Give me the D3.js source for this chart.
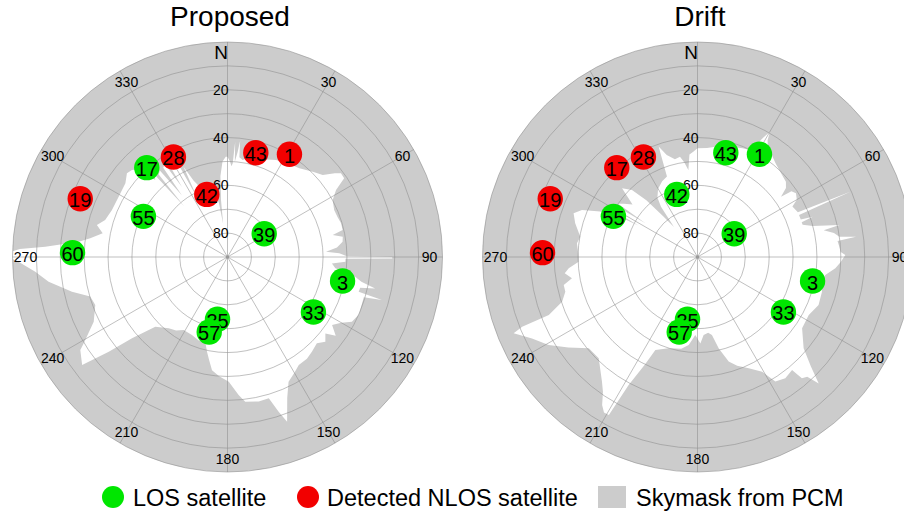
<!DOCTYPE html>
<html>
<head>
<meta charset="utf-8">
<script src="https://cdn.jsdelivr.net/npm/d3@7"></script>
<style>
  body { margin: 0; background: #fff; }
  text { font-family: "Liberation Sans", Arial, Helvetica, sans-serif; fill: #000; }
</style>
</head>
<body>
<svg id="chart" width="904" height="516"></svg>
<script>
// satellites: same sky position in both panels, only the NLOS flag differs
const satPrn = [28, 43, 1, 17, 42, 19, 55, 60, 39, 3, 33, 35, 57];
const satAz  = [331.6, 15.2, 31.1, 317.9, 341.7, 291.6, 295.8, 271.6, 57.6, 101.8, 122.6, 189.1, 193.7];
const satEl  = [42.4, 44.8, 39.8, 39.6, 62.4, 23.7, 50.9, 25.1, 71.8, 40.8, 47.3, 63.6, 57.7];

const proposedNlos = [28, 43, 1, 42, 19];
const driftNlos    = [28, 17, 19, 60];

// skymask from PCM: elevation of the obstruction edge per azimuth
const proposedMaskAz = [0, 1.5, 2.5, 3.2, 3.8, 4.4, 5.5, 6.2, 6.8, 8.9, 12, 15, 17, 18.2, 22, 26.6, 32, 39, 45, 49.3,
  52, 53.6, 56, 58.3, 61.5, 66.2, 70, 73.5, 76.8, 78.2, 80, 82.4, 85, 86.9, 88.1, 89.6, 90, 90.5, 90.8, 92.3,
  93.5, 96, 98.8, 100.5, 102, 103, 104.8, 105.6, 106.5, 109, 113.8, 117.5, 120, 123, 126, 128, 130.9, 134, 138.3, 142,
  146.6, 150, 153.9, 157, 160.1, 161.7, 163.7, 167.8, 173, 175.4, 179.4, 184, 187.8, 190, 192.2, 194.7, 199, 204.5, 211, 215,
  219.5, 226, 229.6, 231.4, 233.4, 237.7, 239, 244.2, 250, 253.9, 257.4, 262.1, 265.6, 268.5, 269.5, 271.5, 272.2, 273.2, 275.9, 277.8,
  280.8, 283.8, 286.8, 292.1, 299, 305.8, 309.8, 312.3, 315, 316.8, 318.5, 319.5, 320.2, 322, 323.5, 324.2, 326, 327, 327.8, 330,
  332, 333, 334, 336, 338, 341, 345, 348, 351, 352.5, 353.5, 355, 357, 359];
const proposedMaskEl = [48, 50, 52, 50.7, 41.6, 50, 46, 41, 48, 48.9, 47.5, 47, 50, 47.3, 46, 44.6, 43.5, 42.2, 39.5, 37.4,
  33, 31, 31.1, 36.6, 39.9, 41.2, 41, 40.4, 40.5, 45, 41, 41.4, 44, 48.7, 43.2, 40, 21, 21, 40.6, 40.6,
  46.2, 44.6, 35.9, 33, 26.8, 33, 33.2, 22.9, 30.5, 30.4, 30, 31.3, 35, 37.8, 34, 38, 35.8, 38, 36.9, 36,
  35.8, 34, 31.9, 26, 16.7, 21.8, 28.4, 28.1, 29, 32, 37.8, 40, 42.2, 46, 49.4, 53.3, 53, 54.1, 54.4, 52.5,
  51.3, 48, 37.5, 26.4, 14.2, 17.1, 19.8, 27.8, 31.1, 30.2, 23.3, 14.4, 9.3, 3, 0, 0, 3, 13.6, 27.4, 32,
  36.8, 33.7, 36.5, 37.8, 37.9, 37.3, 35.2, 35.9, 38, 45.8, 44, 62, 45, 44, 58, 44, 43, 55, 43, 42,
  44, 62, 48, 55, 58, 62, 64, 62, 67, 76, 66, 56, 50, 48];

const driftMaskAz = [0, 5, 10, 15, 22.6, 27, 28.5, 30, 31, 33, 35.3, 40, 43.2, 49.6, 52, 54.2, 55, 57.1, 60, 62,
  66, 66.9, 67.5, 70, 70.7, 71.5, 73, 75, 77.3, 78, 80, 81.9, 82.7, 83.5, 85.8, 88, 89.2, 92, 94.7, 98,
  102, 105.6, 111.6, 117.5, 124.3, 130.7, 134, 136.2, 137.5, 139.3, 140.1, 144.1, 148, 150.6, 155.3, 160, 163.4, 166.9, 169.5, 172,
  175.5, 178.1, 181.6, 185.7, 190, 197.5, 204.4, 206, 208.3, 209.3, 211, 212.8, 215, 217.5, 224.3, 230, 235, 239.4, 243.8, 247.5,
  248.3, 248.7, 251.7, 255.3, 258.2, 260.4, 263, 265, 267.7, 270, 276.5, 279.8, 285.4, 289.4, 292.1, 295, 297, 298, 298.8, 302,
  303, 303.8, 306, 309, 312.3, 315.6, 318, 320, 322, 324, 326, 330, 335, 339.2, 340.6, 343.2, 347, 350.1, 352, 354, 355.5, 357.7];
const driftMaskEl = [44.5, 44.2, 43, 42, 40.7, 40, 34, 29.4, 33, 36, 36.8, 39, 40, 41.4, 43, 46.9, 42, 40.9, 42, 45,
  44, 20.2, 44, 44, 38.9, 44, 44, 40, 29.1, 36, 32, 30, 23.1, 31, 30.5, 30, 28.1, 30, 32.1, 36,
  37, 35.9, 35.5, 37.5, 37, 31.4, 24, 16.7, 22, 23, 28.3, 27.3, 28.5, 34.9, 38.7, 41.5, 44.3, 50.7, 56.8, 58,
  57.3, 53.8, 57.3, 53, 51, 49.9, 47.3, 40, 29.2, 14.2, 14, 16.3, 21, 24.3, 30.8, 30.6, 24, 17.6, 12.8, 6.7,
  11, 23.2, 30.3, 32.8, 32.8, 36.7, 34, 35.9, 40.2, 40.3, 39.2, 40.2, 36.9, 35, 37.8, 45, 50, 62, 50, 50,
  64, 50, 52, 55, 47.3, 50.8, 58, 68, 74, 64, 60, 57, 55, 54, 41, 45.4, 48, 47.4, 50, 53.4, 47, 45.9];

const elevRings  = [0, 10, 20, 30, 40, 50, 60, 70, 80];
const elevLabels = [20, 40, 60, 80];
const azTicks    = [0, 30, 60, 90, 120, 150, 180, 210, 240, 270, 300, 330];
const azLabels   = ['N', '30', '60', '90', '120', '150', '180', '210', '240', '270', '300', '330'];

const panels = [
  { title: 'Proposed', cx: 227.5, cy: 257, maskAz: proposedMaskAz, maskEl: proposedMaskEl, nlos: proposedNlos },
  { title: 'Drift',    cx: 697.5, cy: 257, maskAz: driftMaskAz,    maskEl: driftMaskEl,    nlos: driftNlos }
];

const R = 215;
const losColor = '#00e600';
const nlosColor = '#f20000';
const maskColor = '#cccccc';

const svg = d3.select('#chart');
const r = d3.scaleLinear().domain([90, 0]).range([0, R]);
const ang = d3.scaleLinear().domain([0, 360]).range([0, 2 * Math.PI]);

function drawPanel(p) {
  const g = svg.append('g').attr('transform', `translate(${p.cx},${p.cy})`);

  // obstructed sky as background disk
  g.append('circle').attr('r', r(0)).attr('fill', maskColor);

  // open sky polygon
  const maskData = p.maskAz.map((a, i) => ({ az: a, el: p.maskEl[i] }));
  const radial = d3.lineRadial()
    .angle(d => ang(d.az))
    .radius(d => r(d.el))
    .curve(d3.curveLinearClosed);
  g.append('path').attr('d', radial(maskData)).attr('fill', '#fff');

  // grid
  const grid = g.append('g').attr('fill', 'none').attr('stroke', '#8c8c8c').attr('stroke-opacity', 0.55);
  grid.selectAll('circle.ring').data(elevRings).enter().append('circle')
    .attr('class', 'ring').attr('r', d => r(d));
  grid.selectAll('line').data(azTicks).enter().append('line')
    .attr('x1', 0).attr('y1', 0)
    .attr('x2', d => r(0) * Math.sin(ang(d)))
    .attr('y2', d => -r(0) * Math.cos(ang(d)));
  g.append('circle').attr('r', 1.8).attr('fill', '#999');

  // elevation labels along north spoke
  g.selectAll('text.el').data(elevLabels).enter().append('text')
    .attr('class', 'el')
    .attr('x', 1).attr('y', d => -r(d))
    .attr('dy', '0.36em')
    .attr('text-anchor', 'end')
    .style('font-size', '14px')
    .text(d => d);

  // azimuth labels
  const labR = 202;
  g.selectAll('text.az').data(azTicks).enter().append('text')
    .attr('class', 'az')
    .attr('x', (d, i) => labR * Math.sin(ang(d)) + (i === 0 ? -6.5 : 0))
    .attr('y', (d, i) => -(i === 0 ? 205 : labR) * Math.cos(ang(d)))
    .attr('dy', '0.36em')
    .attr('text-anchor', 'middle')
    .style('font-size', (d, i) => i === 0 ? '19px' : '14px')
    .text((d, i) => azLabels[i]);

  // satellites
  const sats = satPrn.map((prn, i) => ({ prn, az: satAz[i], el: satEl[i] }));
  const sg = g.selectAll('g.sat').data(sats).enter().append('g')
    .attr('class', 'sat')
    .attr('transform', d => `translate(${r(d.el) * Math.sin(ang(d.az))},${-r(d.el) * Math.cos(ang(d.az))})`);
  sg.append('circle').attr('r', 12.7)
    .attr('fill', d => p.nlos.includes(d.prn) ? nlosColor : losColor);
  sg.append('text')
    .attr('text-anchor', 'middle')
    .attr('y', 1.5)
    .attr('dy', '0.35em')
    .style('font-size', '20px')
    .text(d => d.prn);

  // title
  svg.append('text')
    .attr('x', p.cx + 2.5).attr('y', 26)
    .attr('text-anchor', 'middle')
    .style('font-size', '28px')
    .text(p.title);
}

panels.forEach(drawPanel);

// legend
const legend = svg.append('g').attr('transform', 'translate(0,497)');
legend.append('circle').attr('cx', 113).attr('cy', 0).attr('r', 11).attr('fill', losColor);
legend.append('text').attr('x', 133).attr('y', 8.5).style('font-size', '23.5px').text('LOS satellite');
legend.append('circle').attr('cx', 308).attr('cy', 0).attr('r', 11).attr('fill', nlosColor);
legend.append('text').attr('x', 327).attr('y', 8.5).style('font-size', '23.5px').text('Detected NLOS satellite');
legend.append('rect').attr('x', 598).attr('y', -11).attr('width', 28).attr('height', 22).attr('fill', maskColor);
legend.append('text').attr('x', 636).attr('y', 8.5).style('font-size', '23.5px').text('Skymask from PCM');
</script>
</body>
</html>
